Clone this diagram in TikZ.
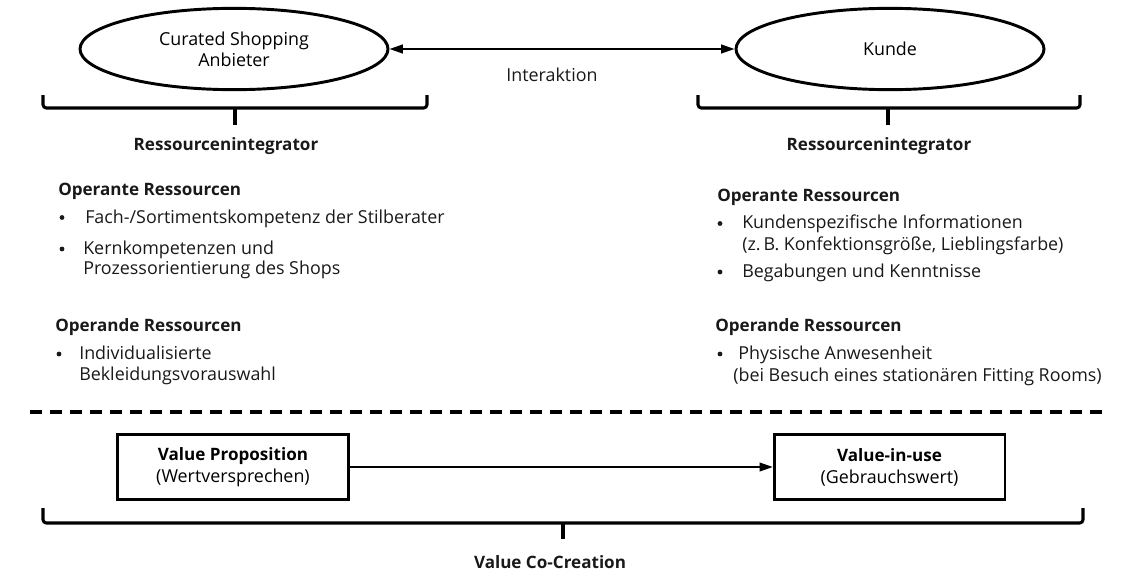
\documentclass[tikz,border=0pt]{standalone}
\usepackage{fontspec}
\setmainfont{Open Sans}
\usetikzlibrary{shapes.geometric,arrows.meta}
\tikzset{
  txt/.style={anchor=base west,inner sep=0pt,font=\fontsize{13.4}{16}\selectfont,text=black!90},
  hd/.style={txt,font=\fontsize{12.8}{16}\selectfont\bfseries},
  bul/.style={circle,fill=black!90,inner sep=0pt,minimum size=3.6pt},
  actor/.style={ellipse,draw,line width=2.2pt,minimum width=231pt,minimum height=61pt,inner sep=0pt,align=center,font=\fontsize{13.4}{16}\selectfont},
  valbox/.style={rectangle,draw,line width=2pt,minimum width=173pt,minimum height=49pt,inner sep=0pt,align=center,font=\fontsize{13.4}{16.5}\selectfont},
  brace/.style={line width=2.3pt,rounded corners=2.5pt},
  tip/.style={line width=2.8pt},
  conn/.style={line width=1.5pt},
  head/.style={Triangle[length=10pt,width=6.5pt]},
  sep/.style={line width=2.3pt,dash pattern=on 9pt off 6pt}
}
\begin{document}
\begin{tikzpicture}[x=0.75pt,y=-0.75pt]
\useasboundingbox (0,0) rectangle (1121,575);
% actors
\node[actor] (anb) at (234,49) {Curated Shopping\\Anbieter};
\node[actor] (kun) at (890,49) {Kunde};
\draw[conn,{Triangle[length=10pt,width=6.5pt]}-{Triangle[length=10pt,width=6.5pt]}] (anb) -- (kun);
\node[txt,anchor=base] (inter) at (552,81) {Interaktion};
% braces top
\coordinate (lb1) at (43,95); \coordinate (lb2) at (427,95); \coordinate (lbt) at (235,108);
\draw[brace] (lb1) -- (43,108) -- (427,108) -- (lb2);
\draw[tip] (lbt) -- (235,125);
\node[hd,anchor=base] (ri1) at (226,150) {Ressourcenintegrator};
\coordinate (rb1) at (698,95); \coordinate (rb2) at (1080,95); \coordinate (rbt) at (888,108);
\draw[brace] (rb1) -- (698,108) -- (1080,108) -- (rb2);
\draw[tip] (rbt) -- (888,125);
\node[hd,anchor=base] (ri2) at (879,150) {Ressourcenintegrator};
% left column
\node[hd] (lop) at (58,195.5) {Operante Ressourcen};
\node[bul] (lb1b) at (62,217.5) {};
\node[txt] (lf) at (85,223.5) {Fach-/Sortimentskompetenz der Stilberater};
\node[bul] (lb2b) at (62,249) {};
\node[txt] (lk1) at (83,254) {Kernkompetenzen und};
\node[txt] (lk2) at (83,274.5) {Prozessorientierung des Shops};
\node[hd] (lod) at (55,331) {Operande Ressourcen};
\node[bul] (lb3b) at (59,354) {};
\node[txt] (li1) at (79,359) {Individualisierte};
\node[txt] (li2) at (79,380) {Bekleidungsvorauswahl};
% right column
\node[hd] (rop) at (717,201) {Operante Ressourcen};
\node[bul] (rb1b) at (720,223.5) {};
\node[txt] (rk1) at (742,228.5) {Kundenspezifische Informationen};
\node[txt] (rk2) at (742,250) {(z.\,B. Konfektionsgröße, Lieblingsfarbe)};
\node[bul] (rb2b) at (720,272) {};
\node[txt] (rbg) at (742,277) {Begabungen und Kenntnisse};
\node[hd] (rod) at (715,331) {Operande Ressourcen};
\node[bul] (rb3b) at (720,354) {};
\node[txt] (rp1) at (738,359) {Physische Anwesenheit};
\node[txt] (rp2) at (733,381) {(bei Besuch eines stationären Fitting Rooms)};
% separator
\coordinate (s1) at (30,412); \coordinate (s2) at (1106,412);
\draw[sep] (s1) -- (s2);
% value boxes
\node[valbox] (vp) at (233,467) {{\fontsize{12.8}{16.5}\selectfont\bfseries Value Proposition}\\(Wertversprechen)};
\node[valbox] (vu) at (889.5,467) {{\fontsize{12.8}{16.5}\selectfont\bfseries Value-in-use}\\(Gebrauchswert)};
\draw[conn,-{Triangle[length=10pt,width=6.5pt]}] (vp) -- (vu);
% bottom brace
\coordinate (bb1) at (43,508); \coordinate (bb2) at (1083,508); \coordinate (bbt) at (563,523);
\draw[brace] (bb1) -- (43,523) -- (1083,523) -- (bb2);
\draw[tip] (bbt) -- (563,539);
\node[hd,anchor=base] (vcc) at (550,568) {Value Co-Creation};
\end{tikzpicture}
\end{document}
